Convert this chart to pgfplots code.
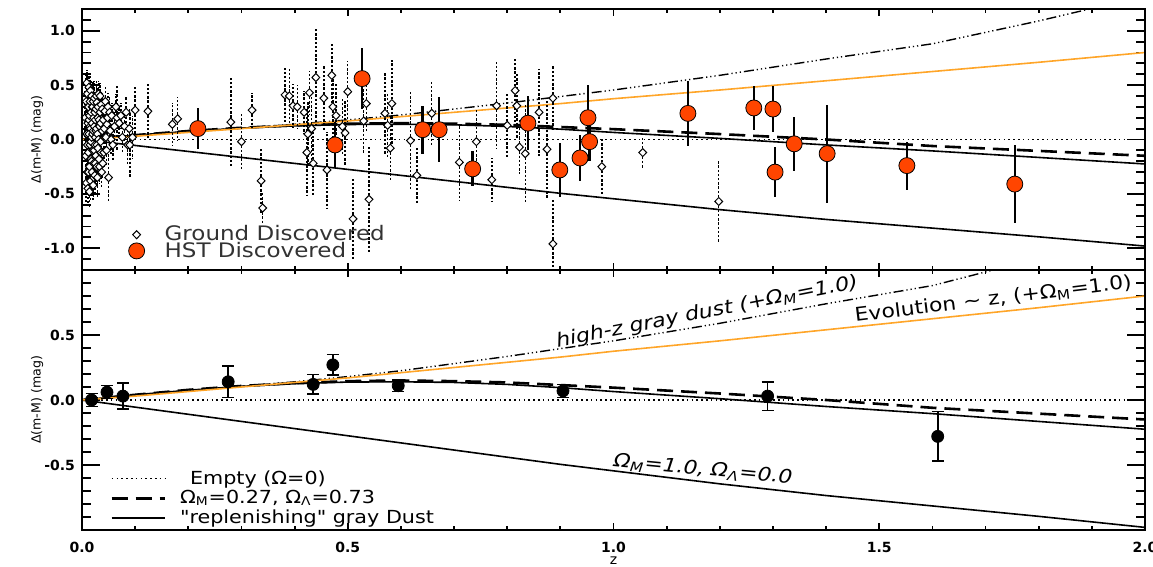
\documentclass[border=0pt]{standalone}
\usepackage{fontspec}
\setmainfont{DejaVu Sans}
\newfontfamily\wide[FakeStretch=1.15]{DejaVu Sans}
\usepackage{pgfplots}
\usepackage{pgfplotstable}
\pgfplotsset{compat=1.18}
\definecolor{hstred}{RGB}{255,69,0}
\definecolor{evoorange}{RGB}{255,165,40}

% model residuals relative to the empty universe
\pgfplotstableread{
z    lcdm    dust    om1     hzd    evo
0.00  0.000  0.000   0.000  0.000  0.000
0.10  0.040  0.040  -0.055  0.035  0.030
0.20  0.078  0.075  -0.110  0.070  0.065
0.30  0.108  0.105  -0.165  0.105  0.100
0.40  0.130  0.125  -0.220  0.140  0.135
0.50  0.145  0.138  -0.275  0.180  0.170
0.60  0.150  0.140  -0.330  0.225  0.210
0.70  0.145  0.135  -0.385  0.280  0.250
0.80  0.135  0.120  -0.440  0.335  0.290
0.90  0.115  0.095  -0.495  0.395  0.330
1.00  0.095  0.065  -0.545  0.455  0.375
1.20  0.050  0.010  -0.645  0.590  0.455
1.40  0.000 -0.050  -0.735  0.740  0.540
1.60 -0.060 -0.105  -0.815  0.880  0.625
1.80 -0.105 -0.165  -0.895  1.090  0.710
2.00 -0.150 -0.225  -0.980  1.320  0.800
}\models

% ground discovered SNe
\pgfplotstableread{
z v e
0.006 0.20 0.25
0.007 -0.15 0.30
0.008 0.35 0.25
0.008 -0.40 0.20
0.009 0.05 0.30
0.009 0.52 0.12
0.010 -0.05 0.25
0.010 0.42 0.18
0.010 -0.30 0.20
0.011 0.30 0.20
0.011 0.15 0.22
0.011 -0.45 0.15
0.012 -0.30 0.25
0.012 0.30 0.25
0.012 -0.12 0.20
0.013 0.18 0.22
0.013 0.05 0.30
0.013 0.48 0.12
0.014 -0.48 0.15
0.014 -0.25 0.22
0.014 0.22 0.18
0.015 0.12 0.20
0.015 -0.05 0.25
0.015 0.35 0.20
0.016 0.45 0.15
0.016 -0.38 0.18
0.016 0.10 0.15
0.017 -0.02 0.20
0.017 0.25 0.20
0.017 -0.18 0.25
0.018 -0.20 0.22
0.018 0.02 0.22
0.018 0.40 0.15
0.019 0.30 0.20
0.019 -0.30 0.22
0.019 0.15 0.18
0.020 0.05 0.18
0.020 -0.10 0.20
0.020 0.30 0.22
0.021 0.35 0.18
0.021 0.08 0.17
0.021 -0.42 0.15
0.022 -0.35 0.20
0.022 0.20 0.15
0.022 -0.22 0.18
0.023 -0.10 0.18
0.023 0.12 0.20
0.023 0.38 0.16
0.024 0.25 0.18
0.024 -0.05 0.22
0.024 -0.33 0.17
0.025 -0.22 0.20
0.025 0.18 0.18
0.025 0.02 0.15
0.026 0.08 0.18
0.026 0.28 0.14
0.026 -0.15 0.20
0.027 0.40 0.14
0.027 0.10 0.16
0.028 -0.05 0.18
0.028 -0.25 0.18
0.028 0.34 0.15
0.029 -0.35 0.18
0.029 0.05 0.14
0.030 0.30 0.15
0.030 0.20 0.15
0.030 -0.08 0.16
0.031 0.00 0.16
0.031 0.42 0.12
0.032 0.18 0.15
0.032 -0.18 0.15
0.033 -0.25 0.16
0.033 0.12 0.13
0.034 0.40 0.12
0.034 0.25 0.14
0.035 0.15 0.14
0.035 -0.02 0.16
0.036 -0.12 0.15
0.036 0.32 0.12
0.037 -0.30 0.14
0.038 0.28 0.13
0.038 0.08 0.12
0.039 -0.22 0.15
0.040 0.18 0.14
0.041 -0.12 0.13
0.042 0.10 0.14
0.043 0.26 0.12
0.044 0.35 0.13
0.045 0.02 0.14
0.046 -0.10 0.15
0.047 0.14 0.12
0.048 0.20 0.14
0.049 0.30 0.13
0.050 -0.35 0.23
0.052 0.25 0.14
0.053 0.08 0.12
0.055 0.00 0.15
0.056 0.22 0.12
0.058 -0.05 0.14
0.061 0.12 0.13
0.064 0.30 0.12
0.066 0.20 0.30
0.070 0.15 0.14
0.073 0.22 0.12
0.076 0.02 0.14
0.080 0.12 0.15
0.083 0.25 0.15
0.086 -0.05 0.18
0.089 0.10 0.18
0.090 -0.05 0.30
0.095 0.02 0.20
0.100 0.27 0.22
0.124 0.26 0.25
0.170 0.14 0.20
0.180 0.19 0.20
0.280 0.16 0.42
0.300 -0.02 0.26
0.320 0.27 0.16
0.337 -0.38 0.30
0.340 -0.63 0.15
0.382 0.41 0.25
0.390 0.40 0.25
0.397 0.31 0.20
0.405 0.30 0.20
0.418 0.25 0.20
0.423 -0.12 0.40
0.425 0.05 0.30
0.428 0.43 0.20
0.432 0.10 0.30
0.435 -0.22 0.30
0.440 0.57 0.45
0.455 0.38 0.30
0.461 -0.28 0.35
0.470 0.59 0.30
0.472 0.30 0.30
0.478 0.22 0.30
0.490 0.12 0.25
0.495 0.06 0.30
0.500 0.44 0.28
0.510 -0.73 0.37
0.530 0.17 0.30
0.535 0.33 0.25
0.540 -0.55 0.50
0.570 0.24 0.37
0.575 0.13 0.30
0.580 -0.08 0.30
0.583 0.33 0.40
0.618 -0.01 0.45
0.630 -0.33 0.25
0.658 0.24 0.30
0.710 -0.21 0.35
0.742 -0.02 0.30
0.771 -0.37 0.20
0.780 0.31 0.40
0.800 0.13 0.30
0.815 0.45 0.30
0.818 0.31 0.30
0.823 -0.07 0.25
0.834 -0.13 0.45
0.860 0.25 0.40
0.875 -0.09 0.45
0.886 0.38 0.30
0.886 -0.96 0.40
0.978 -0.25 0.27
1.055 -0.12 0.15
1.198 -0.57 0.38
}\ground

% HST discovered SNe
\pgfplotstableread{
z v e
0.218 0.10 0.19
0.527 0.56 0.28
0.476 -0.05 0.21
0.641 0.09 0.22
0.672 0.09 0.30
0.735 -0.27 0.16
0.839 0.15 0.25
0.899 -0.28 0.25
0.937 -0.17 0.21
0.952 0.20 0.30
0.955 -0.02 0.18
1.140 0.24 0.30
1.264 0.29 0.20
1.300 0.28 0.21
1.304 -0.30 0.23
1.340 -0.04 0.25
1.402 -0.13 0.45
1.552 -0.24 0.22
1.755 -0.41 0.36
}\hst

% binned residuals
\pgfplotstableread{
z v e
0.018 0.00 0.05
0.047 0.06 0.05
0.077 0.03 0.10
0.275 0.14 0.12
0.435 0.12 0.075
0.472 0.27 0.08
0.595 0.11 0.045
0.905 0.07 0.05
1.290 0.03 0.11
1.610 -0.28 0.19
}\binned

\pgfplotsset{
  frame/.style={scale only axis, width=531.5pt, xmin=0, xmax=2,
    axis line style={line width=1.1pt}, tick style={line width=0.9pt, black},
    tick align=inside, clip mode=individual,
    /pgf/number format/fixed, /pgf/number format/fixed zerofill,
    /pgf/number format/precision=1, /pgf/number format/assume math mode=true,
    ticklabel style={font=\bfseries\fontsize{7}{8}\selectfont}},
  yframe/.style={frame, xtick=\empty, major tick length=9pt, minor tick length=4.5pt,
    ylabel={Δ(m-M) (mag)},
    every axis y label/.style={at={(rel axis cs:-0.0423,0.5)}, rotate=90, anchor=center,
      font=\fontsize{6.3}{7}\selectfont}},
  xframe/.style={frame, ytick=\empty, xtick={0,0.5,1,1.5,2}, minor x tick num=4,
    major tick length=3.5pt, minor tick length=2pt,
    xticklabel style={yshift=-2.5pt}},
  empty/.style={line width=0.7pt, dash pattern=on 0.8pt off 1.6pt},
  lcdm/.style={line width=1.3pt, dash pattern=on 8pt off 4pt},
  solidm/.style={line width=0.8pt},
  hzd/.style={line width=0.7pt, dash pattern=on 5pt off 1.5pt on 0.6pt off 1.5pt on 0.6pt off 1.5pt on 0.6pt off 1.5pt},
  evo/.style={line width=0.8pt, evoorange},
}

\begin{document}
\begin{tikzpicture}
\path[use as bounding box] (0,0) rectangle (576.5pt,283.5pt);

% ---- top panel ----
\begin{axis}[yframe, at={(41pt,148.5pt)}, anchor=south west, height=130.5pt,
  ymin=-1.2, ymax=1.2, ytick={-1,-0.5,0,0.5,1},
  minor ytick={-1.1,-0.9,-0.8,-0.7,-0.6,-0.4,-0.3,-0.2,-0.1,0.1,0.2,0.3,0.4,0.6,0.7,0.8,0.9,1.1},
  legend style={at={(axis cs:0.087,-0.95)}, anchor=west, draw=none, fill=none,
    inner sep=0pt, row sep=-5pt, column sep=8pt, text=black!80,
    font=\wide\fontsize{10}{10}\selectfont},
  legend cell align=left]
\addplot[forget plot, empty] coordinates {(0,0) (2,0)};
\addplot[forget plot, lcdm] table[x=z, y=lcdm] {\models};
\addplot[forget plot, solidm] table[x=z, y=dust] {\models};
\addplot[forget plot, solidm] table[x=z, y=om1] {\models};
\addplot[forget plot, hzd] table[x=z, y=hzd] {\models};
\addplot[forget plot, evo] table[x=z, y=evo] {\models};
\addplot[only marks, mark=diamond*, mark size=2pt,
  mark options={fill=white, draw=black, line width=0.5pt, xscale=1.3},
  error bars/.cd, y dir=both, y explicit, error mark=none,
  error bar style={line width=0.75pt, dash pattern=on 1.2pt off 0.9pt}]
  table[x=z, y=v, y error=e] {\ground};
\addlegendentry{Ground Discovered}
\addplot[only marks, mark=*, mark size=4pt, mark options={fill=hstred, draw=none},
  error bars/.cd, y dir=both, y explicit, error mark=none,
  error bar style={line width=1.2pt, black}]
  table[x=z, y=v, y error=e] {\hst};
\addlegendentry{HST Discovered}
\end{axis}
\begin{axis}[xframe, at={(41pt,148.5pt)}, anchor=south west, height=130.5pt,
  ymin=-1.2, ymax=1.2, xticklabels={}]
\end{axis}

% ---- bottom panel ----
\begin{axis}[yframe, at={(41pt,18.5pt)}, anchor=south west, height=130pt,
  ymin=-1, ymax=1, ytick={-0.5,0,0.5},
  minor ytick={-0.9,-0.8,-0.7,-0.6,-0.4,-0.3,-0.2,-0.1,0.1,0.2,0.3,0.4,0.6,0.7,0.8,0.9},
  legend style={at={(axis cs:0.0527,-0.756)}, anchor=west, draw=none, fill=none,
    inner sep=0pt, row sep=-2.5pt, column sep=5pt,
    font=\wide\fontsize{9}{9.75}\selectfont},
  legend cell align=left,
  legend image code/.code={\draw[#1] (0pt,0pt) -- (26.5pt,0pt);}]
\addplot[empty] coordinates {(0,0) (2,0)};
\addlegendentry{\hspace*{5pt}Empty (Ω=0)}
\addplot[lcdm] table[x=z, y=lcdm] {\models};
\addlegendentry{Ω\textsubscript{M}=0.27, Ω\textsubscript{Λ}=0.73}
\addplot[solidm] table[x=z, y=dust] {\models};
\addlegendentry{"replenishing" gray Dust}
\addplot[forget plot, solidm] table[x=z, y=om1] {\models};
\addplot[forget plot, hzd] table[x=z, y=hzd] {\models};
\addplot[forget plot, evo] table[x=z, y=evo] {\models};
\addplot[forget plot, only marks, mark=*, mark size=3pt, black,
  error bars/.cd, y dir=both, y explicit, error mark=-,
  error mark options={rotate=90, black, mark size=3pt, line width=0.8pt},
  error bar style={line width=0.8pt, black}]
  table[x=z, y=v, y error=e] {\binned};
\node[font=\wide\itshape\fontsize{9.6}{10}\selectfont, rotate=11.2, anchor=base west, inner sep=0pt]
  at (axis cs:0.894,0.405) {high-z gray dust (+Ω\textsubscript{M}=1.0)};
\node[font=\wide\fontsize{9.5}{10}\selectfont, rotate=7, anchor=base west, inner sep=0pt]
  at (axis cs:1.455,0.60) {Evolution \textasciitilde{} z, (+Ω\textsubscript{M}=1.0)};
\node[font=\wide\itshape\fontsize{9.5}{10}\selectfont, rotate=-5.5, anchor=base west, inner sep=0pt]
  at (axis cs:0.999,-0.511) {Ω\textsubscript{M}=1.0, Ω\textsubscript{Λ}=0.0};
\end{axis}
\begin{axis}[xframe, at={(41pt,18.5pt)}, anchor=south west, height=130pt,
  ymin=-1, ymax=1, xlabel={z},
  every axis x label/.style={at={(rel axis cs:0.5,0)}, anchor=center, yshift=-15.3pt,
    inner sep=0pt, font=\fontsize{7}{8}\selectfont}]
\end{axis}
\end{tikzpicture}
\end{document}
